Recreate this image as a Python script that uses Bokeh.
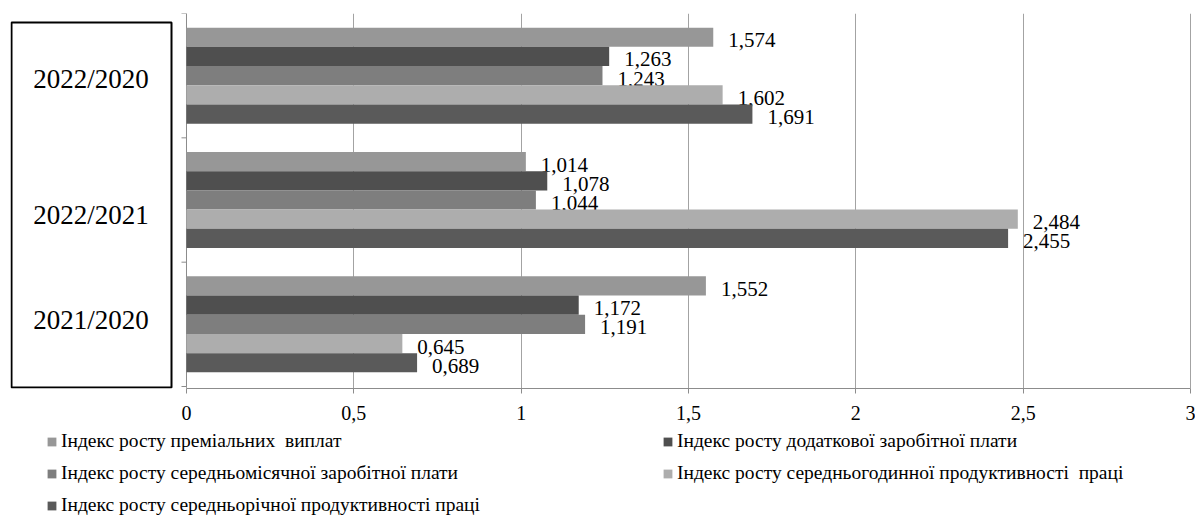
from bokeh.plotting import figure
from bokeh.layouts import column
from bokeh.models import (ColumnDataSource, FixedTicker, CustomJSTickFormatter,
                          Legend, LegendItem)
from bokeh.core.properties import value
from bokeh.embed import file_html
from bokeh.resources import INLINE

# ---- data -------------------------------------------------------------
periods = ["2022/2020", "2022/2021", "2021/2020"]          # top to bottom
series_names = [
    "Індекс росту преміальних  виплат",
    "Індекс росту додаткової заробітної плати",
    "Індекс росту середньомісячної заробітної плати",
    "Індекс росту середньогодинної продуктивності  праці",
    "Індекс росту середньорічної продуктивності праці",
]
premium = [1.574, 1.014, 1.552]
additional = [1.263, 1.078, 1.172]
monthly = [1.243, 1.044, 1.191]
hourly = [1.602, 2.484, 0.645]
annual = [1.691, 2.455, 0.689]
x_ticks = [0, 0.5, 1, 1.5, 2, 2.5, 3]

series = [premium, additional, monthly, hourly, annual]
colors = ["#979797", "#4f4f4f", "#7e7e7e", "#adadad", "#5a5a5a"]

# ---- layout constants -------------------------------------------------
FONT = value("Liberation Serif")
BAR_H = 0.1545
X_START, X_END = -0.5259, 3.006
Y_START, Y_END = -0.016, 3.0
n = len(periods)
centers = [n - k - 0.5 for k in range(n)]
label_nudge = [3, 15, -4]     # px shift of the period captions

p = figure(frame_width=1182, frame_height=375,
           x_range=(X_START, X_END), y_range=(Y_START, Y_END),
           output_backend="svg", toolbar_location=None,
           y_axis_location=None,
           min_border_left=10, min_border_right=3,
           min_border_top=13, min_border_bottom=40)
p.outline_line_color = None
p.background_fill_color = "white"
p.border_fill_color = "white"

# grid
p.ygrid.visible = False
p.xgrid.ticker = FixedTicker(ticks=x_ticks)
p.xgrid.grid_line_color = "#a3a3a3"

# bottom axis
ax = p.xaxis[0]
ax.bounds = (0, 3)
ax.ticker = FixedTicker(ticks=x_ticks)
ax.formatter = CustomJSTickFormatter(code="return tick.toString().replace('.', ',')")
ax.axis_line_color = "#8c8c8c"
ax.major_tick_line_color = "#8c8c8c"
ax.major_tick_out = 5
ax.major_tick_in = 0
ax.minor_tick_line_color = None
ax.major_label_text_font = "Liberation Serif"
ax.major_label_text_font_size = "20px"
ax.major_label_text_color = "black"
ax.major_label_standoff = 12

# category axis line at x = 0 with outward ticks
p.segment(x0=[0], y0=[0], x1=[0], y1=[n], line_color="#8c8c8c", line_width=1)
tick_len = 5 / 334.67
p.segment(x0=[-tick_len] * (n + 1), y0=list(range(n + 1)),
          x1=[0] * (n + 1), y1=list(range(n + 1)),
          line_color="#8c8c8c", line_width=1)

# bars and value labels
for i, (vals, col) in enumerate(zip(series, colors)):
    ys = [c + (2 - i) * BAR_H for c in centers]
    src = ColumnDataSource(dict(
        y=ys, v=vals, lab=[f"{v:.3f}".replace(".", ",") for v in vals]))
    p.hbar(y="y", left=0, right="v", height=BAR_H, source=src,
           fill_color=col, line_color=None)
    p.text(x="v", y="y", text="lab", source=src, x_offset=15, y_offset=3,
           text_baseline="middle", text_align="left", text_font=FONT,
           text_font_size="21px", text_color="black")

# framed box holding the period captions
p.quad(left=[-0.5229], right=[-0.0448], top=[2.928], bottom=[-0.008],
       fill_color=None, line_color="black", line_width=2)
cap = ColumnDataSource(dict(x=[-0.2854] * n, y=centers, t=periods, dy=label_nudge))
p.text(x="x", y="y", text="t", y_offset="dy", source=cap,
       text_align="center", text_baseline="middle", text_font=FONT,
       text_font_size="27px", text_color="black")

# legend strip under the chart, two columns (filled column by column)
lf = figure(width=1195, height=89, x_range=(0, 1), y_range=(0, 1),
            output_backend="svg", toolbar_location=None,
            x_axis_location=None, y_axis_location=None,
            min_border_left=0, min_border_right=0,
            min_border_top=0, min_border_bottom=0)
lf.outline_line_color = None
lf.xgrid.visible = False
lf.ygrid.visible = False
swatches = []
for col in colors:
    # swatch renderers lie far outside the visible range; only their legend glyphs show
    swatches.append(lf.hbar(y=[-50], left=[-50], right=[-49], height=0.1,
                            fill_color=col, line_color=None))
order = [0, 2, 4, 1, 3]
items = [LegendItem(label=series_names[k], renderers=[swatches[k]]) for k in order]
leg = Legend(items=items, ncols=2, location=(36, 1),
             label_text_font="Liberation Serif", label_text_font_size="19.5px",
             label_text_color="black",
             glyph_width=11, glyph_height=11, label_standoff=4,
             label_width=591, label_height=22, spacing=10,
             padding=0, margin=0,
             border_line_alpha=0, background_fill_alpha=0)
lf.add_layout(leg, "center")

layout = column(p, lf, spacing=0)
open("out.html", "w").write(file_html(layout, INLINE))
